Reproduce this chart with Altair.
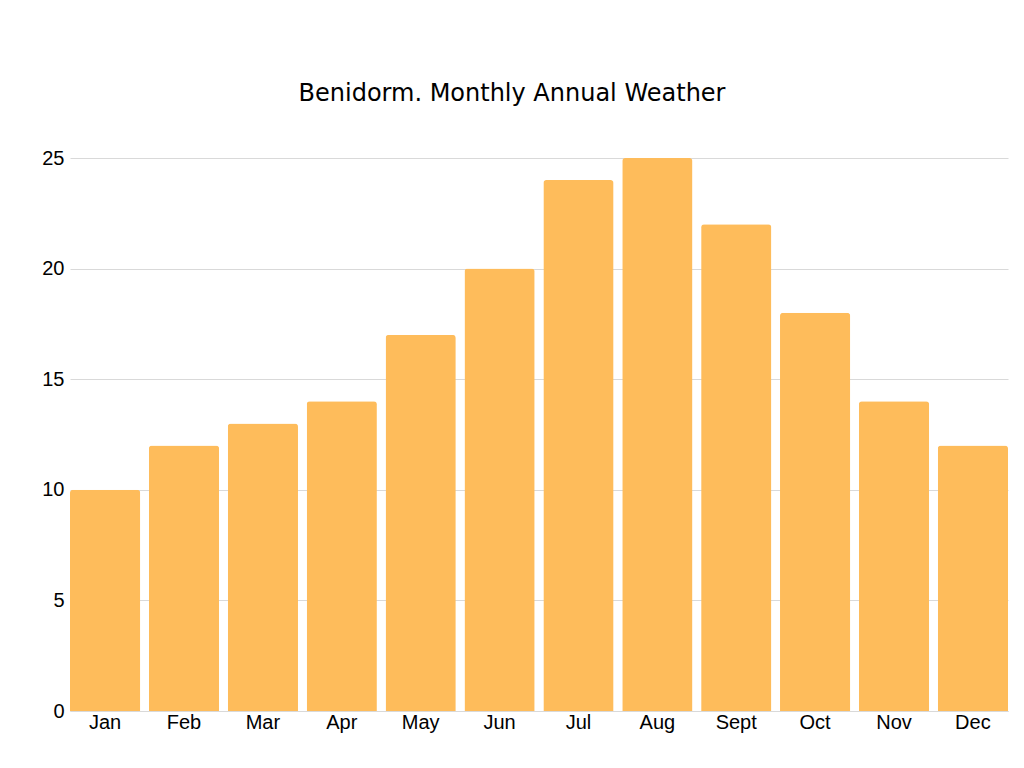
import altair as alt
import pandas as pd

months = ["Jan", "Feb", "Mar", "Apr", "May", "Jun", "Jul", "Aug", "Sept", "Oct", "Nov", "Dec"]
temps = [10, 12, 13, 14, 17, 20, 24, 25, 22, 18, 14, 12]
y_ticks = [0, 5, 10, 15, 20, 25]

df = pd.DataFrame({"month": months, "temp": temps})

chart = alt.Chart(df).mark_bar(
    color="#FEBC5B", cornerRadiusTopLeft=3, cornerRadiusTopRight=3
).encode(
    x=alt.X("month:N", sort=months, title=None,
            scale=alt.Scale(paddingInner=0.11, paddingOuter=0),
            axis=alt.Axis(labelAngle=0, labelFont="Liberation Sans", labelFontSize=20,
                          labelColor="#000000", labelPadding=1, ticks=False,
                          domain=True, domainColor="#D9D9D9")),
    y=alt.Y("temp:Q", title=None, scale=alt.Scale(domain=[0, 25], nice=False),
            axis=alt.Axis(values=y_ticks, labelFont="Liberation Sans", labelFontSize=20,
                          labelColor="#000000", labelPadding=6, ticks=False, domain=False,
                          gridColor="#D9D9D9", gridWidth=1)),
).properties(
    width=938, height=553,
    autosize=alt.AutoSizeParams(type="none"),
    padding={"left": 62, "top": 150, "right": 8, "bottom": 50},
    title=alt.TitleParams("Benidorm. Monthly Annual Weather", font="DejaVu Sans",
                          fontSize=24, fontWeight="normal", color="#000000",
                          anchor="middle", dx=-27, offset=42),
).configure_view(stroke=None)

chart.save("out.html", embed_options={"renderer": "svg", "actions": False})
